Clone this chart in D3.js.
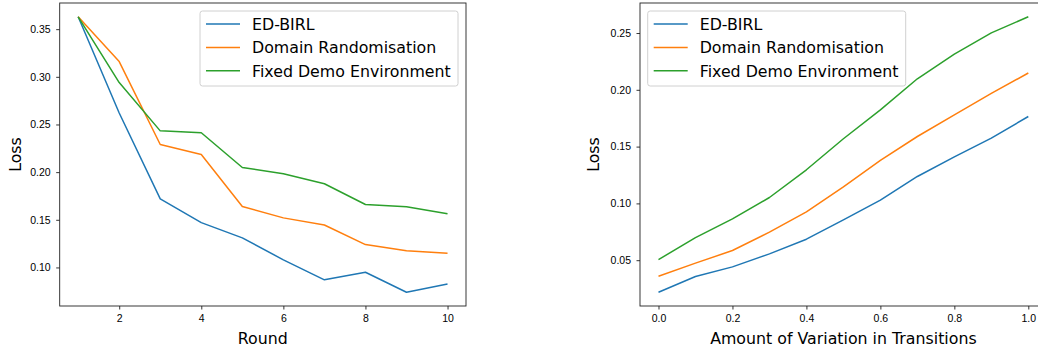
<!DOCTYPE html>
<meta charset="utf-8">
<head>
<style>
  body { margin: 0; overflow: hidden; background: #fff; }
  svg { display: block; font-family: "DejaVu Sans", sans-serif; }
  .line { fill: none; stroke-width: 1.5px; stroke-linejoin: round; }
  .tick text { font-size: 10.5px; fill: #000; }
  .tick line { stroke: #000; stroke-width: 0.8px; }
  .domain { display: none; }
</style>
</head>
<body>
<script src="https://d3js.org/d3.v7.min.js"></script>
<script>
// series names and colours (matplotlib defaults)
var seriesNames = ["ED-BIRL", "Domain Randomisation", "Fixed Demo Environment"];
var seriesColors = ["#1f77b4", "#ff7f0e", "#2ca02c"];

// left panel: loss per round
var rounds = [1, 2, 3, 4, 5, 6, 7, 8, 9, 10];
var roundEdBirl = [0.363, 0.262, 0.172, 0.147, 0.131, 0.108, 0.087, 0.095, 0.074, 0.0826];
var roundDomainRand = [0.363, 0.316, 0.229, 0.2185, 0.164, 0.152, 0.1445, 0.124, 0.1175, 0.115];
var roundFixedDemo = [0.363, 0.294, 0.2433, 0.2413, 0.2049, 0.1983, 0.1878, 0.166, 0.1637, 0.1563];
var roundTicksX = [2, 4, 6, 8, 10];
var roundTicksY = [0.10, 0.15, 0.20, 0.25, 0.30, 0.35];

// right panel: loss vs amount of variation
var variation = [0.0, 0.1, 0.2, 0.3, 0.4, 0.5, 0.6, 0.7, 0.8, 0.9, 1.0];
var varEdBirl = [0.0218, 0.0356, 0.0441, 0.0556, 0.0685, 0.0855, 0.1029, 0.1237, 0.141, 0.1575, 0.1765];
var varDomainRand = [0.0359, 0.0474, 0.0585, 0.0747, 0.0926, 0.1146, 0.1378, 0.1589, 0.178, 0.1968, 0.2148];
var varFixedDemo = [0.0505, 0.0699, 0.0864, 0.1052, 0.1296, 0.1569, 0.1824, 0.2097, 0.2315, 0.2501, 0.2643];
var varTicksX = [0.0, 0.2, 0.4, 0.6, 0.8, 1.0];
var varTicksY = [0.05, 0.10, 0.15, 0.20, 0.25];

var svg = d3.select("body").append("svg")
    .attr("width", 1038)
    .attr("height", 347);

// pad the data extent by 5% like matplotlib does
function padded(vals) {
    var e = d3.extent(vals), p = (e[1] - e[0]) * 0.05;
    return [e[0] - p, e[1] + p];
}

function drawPanel(p) {
    var x = d3.scaleLinear().domain(padded(p.xs)).range([p.left, p.right]);
    var allY = [].concat.apply([], p.series);
    var y = d3.scaleLinear().domain(padded(allY)).range([p.bottom, p.top]);

    var g = svg.append("g");

    // lines
    var line = d3.line()
        .x(function(d, i) { return x(p.xs[i]); })
        .y(function(d) { return y(d); });
    p.series.forEach(function(s, i) {
        g.append("path")
            .datum(s)
            .attr("class", "line")
            .attr("stroke", seriesColors[i])
            .attr("d", line);
    });

    // axes
    g.append("g")
        .attr("transform", "translate(0," + p.bottom + ")")
        .call(d3.axisBottom(x).tickValues(p.ticksX).tickFormat(d3.format(p.fmtX))
            .tickSize(3.5).tickPadding(5.5));
    g.append("g")
        .attr("transform", "translate(" + p.left + ",0)")
        .call(d3.axisLeft(y).tickValues(p.ticksY).tickFormat(d3.format(".2f"))
            .tickSize(3.5).tickPadding(5.5));

    // frame
    g.append("rect")
        .attr("x", p.left).attr("y", p.top)
        .attr("width", p.right - p.left).attr("height", p.bottom - p.top)
        .attr("fill", "none").attr("stroke", "#222").attr("stroke-width", 0.9);

    // axis labels
    g.append("text")
        .attr("x", (p.left + p.right) / 2)
        .attr("y", 344)
        .attr("text-anchor", "middle")
        .style("font-size", "15.8px")
        .text(p.xLabel);
    g.append("text")
        .attr("transform", "translate(" + p.yLabelX + "," + ((p.top + p.bottom) / 2) + ") rotate(-90)")
        .attr("text-anchor", "middle")
        .style("font-size", "15.8px")
        .text("Loss");

    // legend
    var lg = g.append("g").attr("transform", "translate(" + p.legendX + ",11)");
    lg.append("rect")
        .attr("width", 258).attr("height", 75)
        .attr("rx", 2.5)
        .attr("fill", "#fff").attr("fill-opacity", 0.8)
        .attr("stroke", "#d0d0d0").attr("stroke-width", 1);
    seriesNames.forEach(function(name, i) {
        var yy = 13 + i * 23.4;
        lg.append("line")
            .attr("x1", 6).attr("x2", 40)
            .attr("y1", yy).attr("y2", yy)
            .attr("stroke", seriesColors[i]).attr("stroke-width", 1.5);
        lg.append("text")
            .attr("x", 52).attr("y", yy + 5.8)
            .style("font-size", "15.8px")
            .text(name);
    });
}

drawPanel({
    xs: rounds,
    series: [roundEdBirl, roundDomainRand, roundFixedDemo],
    left: 59.7, right: 466, top: 3, bottom: 306,
    ticksX: roundTicksX, ticksY: roundTicksY, fmtX: "d",
    xLabel: "Round", yLabelX: 20.5, legendX: 200
});

drawPanel({
    xs: variation,
    series: [varEdBirl, varDomainRand, varFixedDemo],
    left: 640, right: 1046.8, top: 3, bottom: 306,
    ticksX: varTicksX, ticksY: varTicksY, fmtX: ".1f",
    xLabel: "Amount of Variation in Transitions", yLabelX: 599.3, legendX: 647.7
});
</script>
</body>
</html>
